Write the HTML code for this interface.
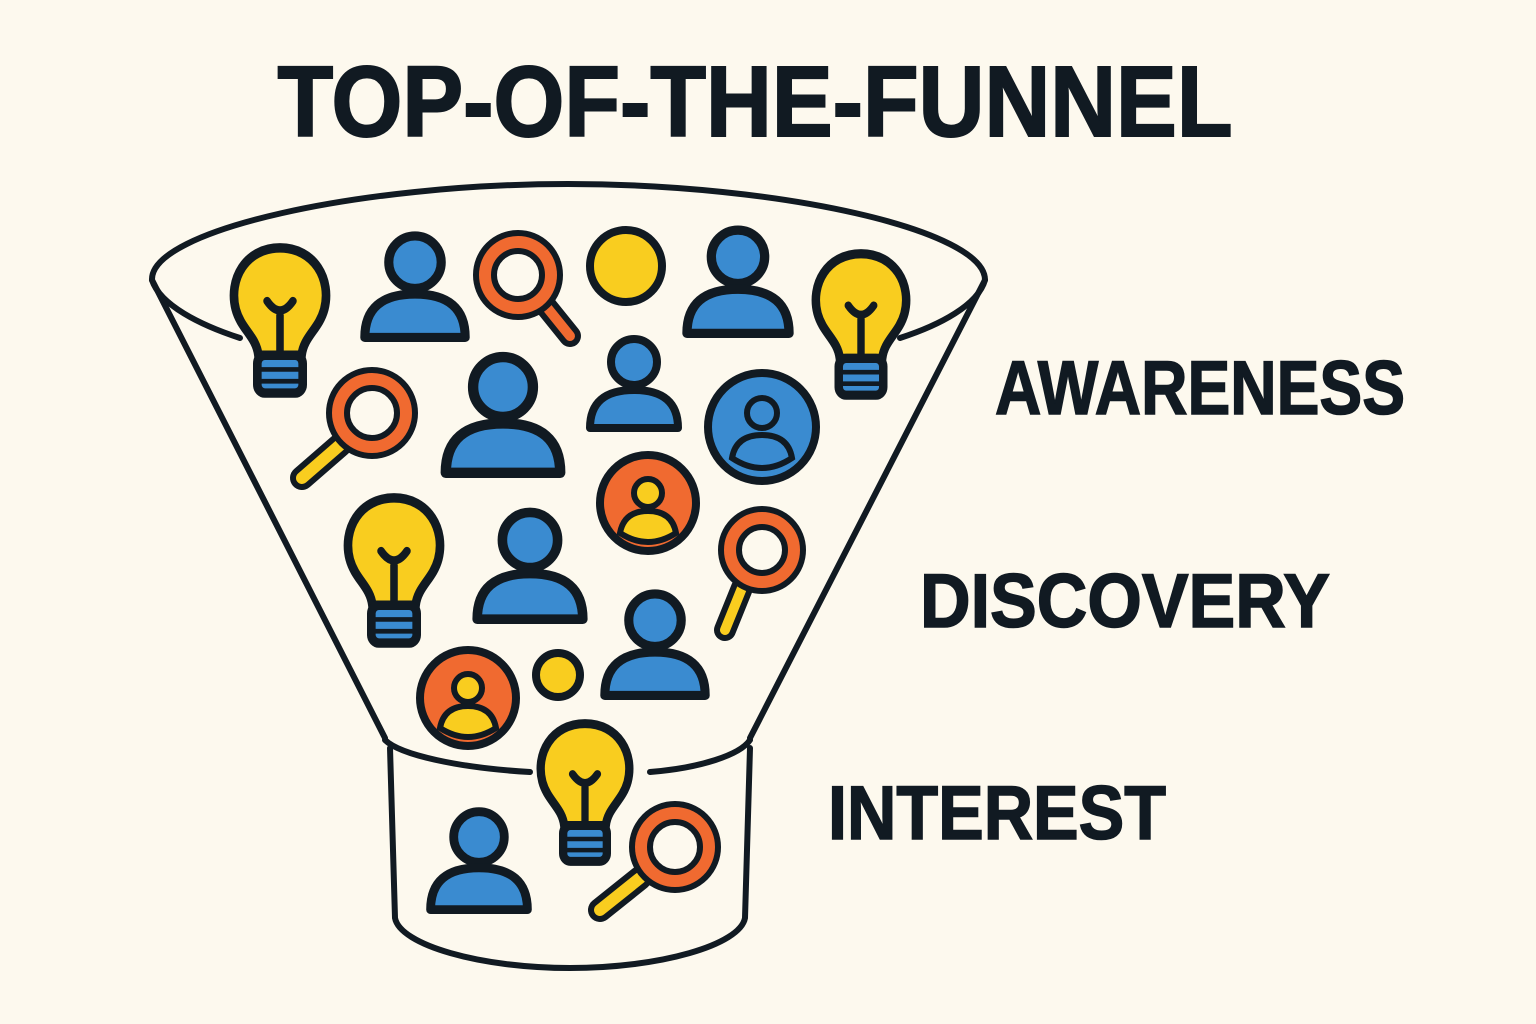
<!DOCTYPE html>
<html><head><meta charset="utf-8"><style>html,body{margin:0;padding:0;background:#fdf9ee}svg{display:block}</style></head>
<body>
<svg width="1536" height="1024" viewBox="0 0 1536 1024" xmlns="http://www.w3.org/2000/svg">
<defs>
<g id="person">
<circle cx="50" cy="30" r="23" fill="#3a8bd0" stroke="#111a22" stroke-width="8"/>
<path d="M6,96 Q6,58 50,58 Q94,58 94,96 Z" fill="#3a8bd0" stroke="#111a22" stroke-width="8" stroke-linejoin="round"/>
</g>
<g id="bulb">
<path d="M50,5 C18,5 2,32 9,57 C14,74 28,80 30,96 L70,96 C72,80 86,74 91,57 C98,32 82,5 50,5Z" fill="#f9cd1f" stroke="#111a22" stroke-width="8"/>
<path d="M50,92 L50,62 M38,50 Q50,66 62,50" fill="none" stroke="#111a22" stroke-width="7" stroke-linecap="round"/>
<rect x="29" y="96" width="42" height="32" rx="7" fill="#3a8bd0" stroke="#111a22" stroke-width="8"/>
<path d="M31,108 H69 M31,118 H69" stroke="#111a22" stroke-width="4"/>
</g>
<g id="avatarO">
<circle cx="0" cy="0" r="48" fill="#f06a30" stroke="#111a22" stroke-width="8"/>
<circle cx="0" cy="-10" r="14" fill="#f9cd1f" stroke="#111a22" stroke-width="6"/>
<path d="M-28,30 Q-24,8 0,8 Q24,8 28,30 Q0,48 -28,30Z" fill="#f9cd1f" stroke="#111a22" stroke-width="6"/>
</g>
</defs>

<text x="755" y="136" text-anchor="middle" textLength="955" lengthAdjust="spacingAndGlyphs" font-family="Liberation Sans, sans-serif" font-weight="bold" font-size="100" fill="#111a22" stroke="#111a22" stroke-width="2">TOP-OF-THE-FUNNEL</text>
<text x="995" y="414" textLength="410" lengthAdjust="spacingAndGlyphs" font-family="Liberation Sans, sans-serif" font-weight="bold" font-size="76" fill="#111a22" stroke="#111a22" stroke-width="1.5">AWARENESS</text>
<text x="920" y="627" textLength="410" lengthAdjust="spacingAndGlyphs" font-family="Liberation Sans, sans-serif" font-weight="bold" font-size="76" fill="#111a22" stroke="#111a22" stroke-width="1.5">DISCOVERY</text>
<text x="828" y="839" textLength="338" lengthAdjust="spacingAndGlyphs" font-family="Liberation Sans, sans-serif" font-weight="bold" font-size="76" fill="#111a22" stroke="#111a22" stroke-width="1.5">INTEREST</text>

<g fill="none" stroke="#111a22" stroke-width="6" stroke-linecap="round">
<path d="M152,280 C150,230 360,184 568,184 C780,184 985,230 985,280"/>
<path d="M152,280 C160,305 200,325 240,338"/>
<path d="M985,280 C978,305 940,325 900,338"/>
<path d="M152,280 L385,738"/>
<path d="M985,280 L750,738"/>
<path d="M385,740 C400,755 460,768 530,772"/>
<path d="M650,772 C700,768 740,755 750,740"/>
<path d="M390,748 L395,918 C400,945 480,968 570,968 C660,968 740,945 745,918 L750,748"/>
</g>

<g transform="translate(226,242) scale(1.08,1.18)"><use href="#bulb"/></g>
<g transform="translate(808,248) scale(1.06,1.15)"><use href="#bulb"/></g>
<g transform="translate(340,492) scale(1.08,1.18)"><use href="#bulb"/></g>
<g transform="translate(533,718) scale(1.04,1.12)"><use href="#bulb"/></g>

<g transform="translate(358,228) scale(1.14)"><use href="#person"/></g>
<g transform="translate(680,222) scale(1.16)"><use href="#person"/></g>
<g transform="translate(438,348) scale(1.3)"><use href="#person"/></g>
<g transform="translate(584,332) scale(1.0)"><use href="#person"/></g>
<g transform="translate(470,504) scale(1.2)"><use href="#person"/></g>
<g transform="translate(598,586) scale(1.14)"><use href="#person"/></g>
<g transform="translate(424,804) scale(1.1)"><use href="#person"/></g>

<circle cx="762" cy="427" r="54" fill="#3a8bd0" stroke="#111a22" stroke-width="8"/>
<circle cx="762" cy="413" r="15" fill="#3a8bd0" stroke="#111a22" stroke-width="6"/>
<path d="M732,458 Q736,435 762,435 Q788,435 792,458 Q762,478 732,458Z" fill="#3a8bd0" stroke="#111a22" stroke-width="6"/>

<use href="#avatarO" x="648" y="503"/>
<use href="#avatarO" x="468" y="698"/>

<circle cx="626" cy="266" r="36" fill="#f9cd1f" stroke="#111a22" stroke-width="8"/>
<circle cx="558" cy="675" r="22" fill="#f9cd1f" stroke="#111a22" stroke-width="8"/>

<g stroke-linecap="round">
<path d="M545,305 L570,336" stroke="#111a22" stroke-width="22"/><path d="M545,305 L570,336" stroke="#f06a30" stroke-width="10"/>
<circle cx="518" cy="275" r="33" fill="#fdf9ee" stroke="#111a22" stroke-width="24"/><circle cx="518" cy="275" r="33" fill="none" stroke="#f06a30" stroke-width="12"/>

<path d="M340,445 L302,478" stroke="#111a22" stroke-width="24"/><path d="M340,445 L302,478" stroke="#f9cd1f" stroke-width="12"/>
<circle cx="372" cy="413" r="34" fill="#fdf9ee" stroke="#111a22" stroke-width="24"/><circle cx="372" cy="413" r="34" fill="none" stroke="#f06a30" stroke-width="12"/>

<path d="M742,588 L725,630" stroke="#111a22" stroke-width="22"/><path d="M742,588 L725,630" stroke="#f9cd1f" stroke-width="10"/>
<circle cx="762" cy="550" r="32" fill="#fdf9ee" stroke="#111a22" stroke-width="24"/><circle cx="762" cy="550" r="32" fill="none" stroke="#f06a30" stroke-width="12"/>

<path d="M640,878 L600,910" stroke="#111a22" stroke-width="24"/><path d="M640,878 L600,910" stroke="#f9cd1f" stroke-width="12"/>
<circle cx="675" cy="847" r="34" fill="#fdf9ee" stroke="#111a22" stroke-width="24"/><circle cx="675" cy="847" r="34" fill="none" stroke="#f06a30" stroke-width="12"/>
</g>
</svg>
</body></html>
